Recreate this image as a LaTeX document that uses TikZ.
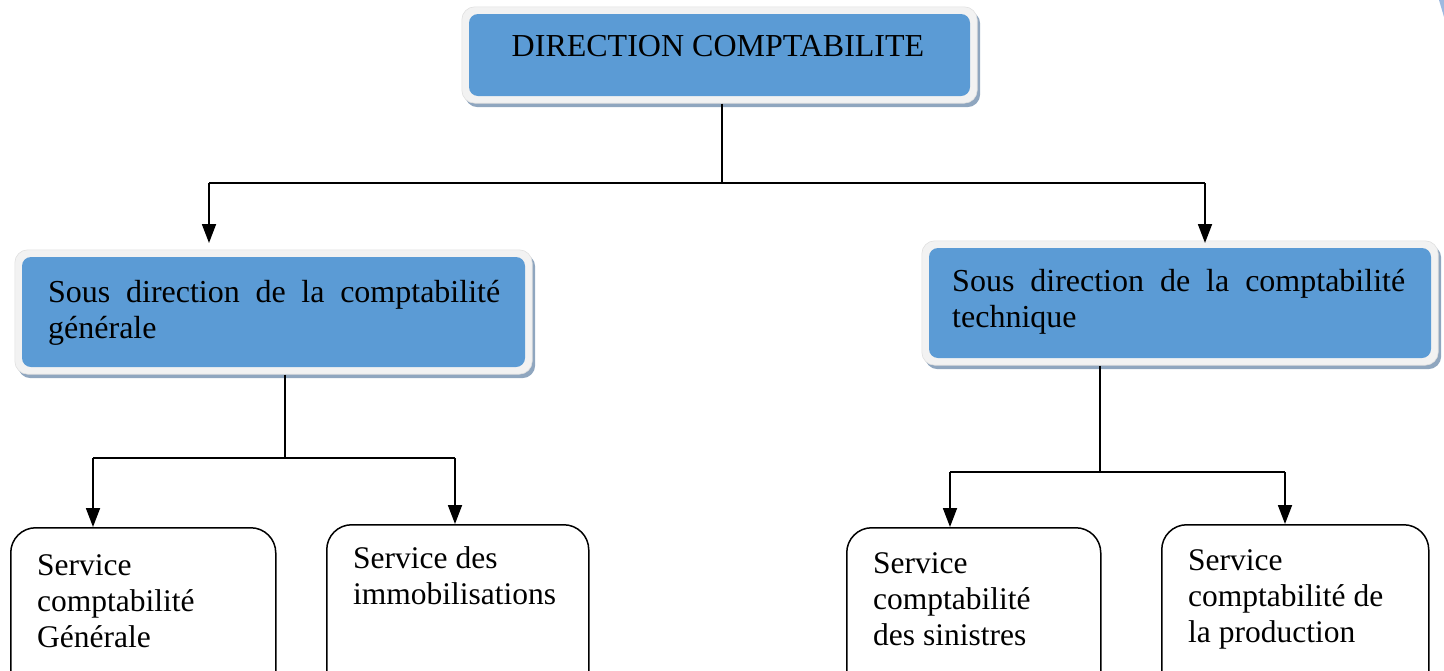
\documentclass[tikz,border=0pt]{standalone}
\usepackage{fontspec}
\setmainfont{Liberation Serif}
\usetikzlibrary{arrows.meta,fit,backgrounds,shadows}
\definecolor{boxblue}{HTML}{5B9BD5}
\definecolor{framegray}{HTML}{F2F2F2}
\definecolor{shadowc}{HTML}{8FA6BF}
\definecolor{sliver}{HTML}{9DB9E0}
\begin{document}
\begin{tikzpicture}[x=1pt,y=-1pt,
  bluebox/.style={fill=boxblue, rounded corners=9pt, inner sep=0pt, minimum width=#1},
  frame/.style={fill=framegray, draw=black!12, line width=0.6pt, rounded corners=13pt, inner sep=7pt,
     drop shadow={shadow xshift=3pt, shadow yshift=-4pt, opacity=1, fill=shadowc}},
  svcbox/.style={draw=black, line width=1.5pt, fill=white, rounded corners=25pt, anchor=north west, inner sep=0pt, minimum height=190pt},
  conn/.style={line width=1.8pt},
  arr/.style={line width=1.8pt, -{Triangle[length=19pt,width=14pt]}},
  svctext/.style={anchor=base west, inner sep=0pt, font=\fontsize{31.5}{36}\selectfont},
  subtext/.style={anchor=base west, inner sep=0pt, font=\fontsize{32}{36}\selectfont}
]
\useasboundingbox (0,0) rectangle (1444,670);
\clip (0,0) rectangle (1444,670);
\fill[sliver] (1439,0) -- (1444,0) -- (1444,17) -- cycle;

% top box
\node[bluebox=501pt, minimum height=82pt] (top) at (719.5,55) {};
\node[anchor=base, inner sep=0pt, font=\fontsize{32}{36}\selectfont] (toptxt) at (718,56) {DIRECTION COMPTABILITE};

% sub-direction boxes
\node[bluebox=503pt, minimum height=110pt] (lm) at (273.5,312) {};
\node[subtext] (lmtxt) at (48,302) {\parbox[t]{452pt}{\makebox[452pt][s]{Sous direction de la comptabilité}\\générale}};
\node[bluebox=502pt, minimum height=110pt] (rm) at (1180,303) {};
\node[subtext] (rmtxt) at (952,291) {\parbox[t]{453pt}{\makebox[453pt][s]{Sous direction de la comptabilité}\\technique}};

\begin{scope}[on background layer]
  \node[frame, fit=(top)] (topf) {};
  \node[frame, fit=(lm)] (lmf) {};
  \node[frame, fit=(rm)] (rmf) {};
\end{scope}

% service boxes
\node[svcbox, minimum width=265pt] (s1) at (10,527) {};
\node[svcbox, minimum width=262pt] (s2) at (326,524) {};
\node[svcbox, minimum width=254pt] (s3) at (846,527) {};
\node[svcbox, minimum width=267pt] (s4) at (1161,524) {};
\node[svctext] (s1t) at (37,575) {\parbox[t]{235pt}{Service\\comptabilité\\Générale}};
\node[svctext] (s2t) at (353,568) {\parbox[t]{232pt}{Service des\\immobilisations}};
\node[svctext] (s3t) at (873,573) {\parbox[t]{225pt}{Service\\comptabilité\\des sinistres}};
\node[svctext] (s4t) at (1188,570) {\parbox[t]{238pt}{Service\\comptabilité de\\la production}};

% junctions
\coordinate (j1) at (722,183);
\coordinate (aL) at (209,183);
\coordinate (aR) at (1205,183);
\coordinate (j2) at (285,458);
\coordinate (bL) at (93,458);
\coordinate (bR) at (455,458);
\coordinate (j3) at (1100,472);
\coordinate (cL) at (950,472);
\coordinate (cR) at (1285,472);

% connectors
\draw[conn] (j1 |- topf.south) -- (j1);
\draw[conn] (aL) -- (aR);
\draw[arr] (aL) -- (aL |- 0,243);
\draw[arr] (aR) -- (aR |- 0,243);

\draw[conn] (j2 |- lmf.south) -- (j2);
\draw[conn] (bL) -- (bR);
\draw[arr] (bL) -- (bL |- s1.north);
\draw[arr] (bR) -- (bR |- s2.north);

\draw[conn] (j3 |- rmf.south) -- (j3);
\draw[conn] (cL) -- (cR);
\draw[arr] (cL) -- (cL |- s3.north);
\draw[arr] (cR) -- (cR |- s4.north);
\end{tikzpicture}
\end{document}
